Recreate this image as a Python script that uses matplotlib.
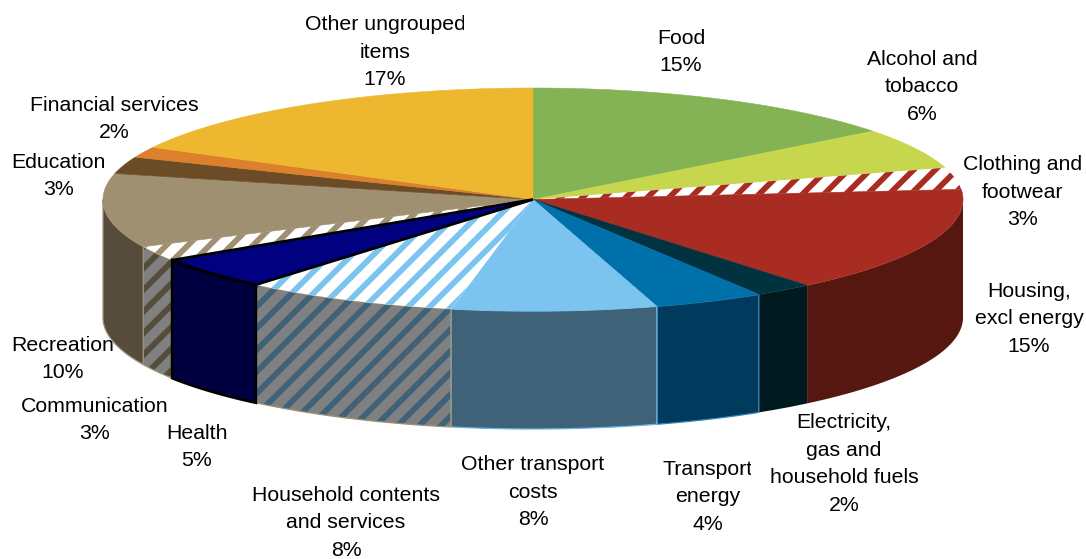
import numpy as np
import matplotlib
matplotlib.use('Agg')
import matplotlib.pyplot as plt
from matplotlib.patches import Polygon
from matplotlib.transforms import Bbox, TransformedBbox

# Shares (the printed labels are rounded)
categories = ['Food', 'Alcohol and\ntobacco', 'Clothing and\nfootwear', 'Housing,\nexcl energy',
              'Electricity,\ngas and\nhousehold fuels', 'Transport\nenergy', 'Other transport\ncosts',
              'Household contents\nand services', 'Health', 'Communication', 'Recreation',
              'Education', 'Financial services', 'Other ungrouped\nitems']
shares = [14.5, 5.9, 3.15, 15.45, 2.2, 4.15, 7.7, 8.1, 4.7, 2.2, 10.7, 2.45, 1.55, 17.25]
percent_labels = ['15%', '6%', '3%', '15%', '2%', '4%', '8%', '8%', '5%', '3%', '10%', '3%', '2%', '17%']

top_colors = ['#84B356', '#C6D64D', '#A92C22', '#A92C22', '#00323F', '#0070AA', '#7CC4F0',
              '#7CC4F0', '#000080', '#A09072', '#A09072', '#6B4C26', '#DD802B', '#EDB72F']
side_colors = ['#426B2B', '#63701F', '#551710', '#551710', '#001A1F', '#003A5C', '#406278',
               '#406278', '#000040', '#554C3C', '#554C3C', '#36260F', '#6E4015', '#775B17']
edge_colors = [None, None, None, None, None, '#3C85B5', '#6DB4E0',
               '#A09072', '#000000', '#A09072', '#A09072', None, None, None]
hatched = [False, False, True, False, False, False, False, True, False, True, False, False, False, False]

# Label centres in pixels
label_x = [681, 922, 1023, 1029, 844, 708, 533, 346, 197, 95, 63, 58, 114, 385]
label_y = [52, 87, 192, 319, 464, 497, 492, 523, 447, 420, 359, 176, 119, 52]

DPI = 130
CX, CY = 533, 199.5
RX, RY = 430, 111.5
DEPTH = 118

plt.rcParams['font.family'] = ['Liberation Sans', 'DejaVu Sans']
plt.rcParams['hatch.linewidth'] = 3.2


def rim(a0, a1):
    """Points on the top ellipse between two angles, clockwise from 12 o'clock."""
    t = np.radians(np.arange(a0, a1, 0.25).tolist() + [a1])
    return CX + RX * np.sin(t), CY - RY * np.cos(t)


def draw_side(ax, a0, a1, i):
    # only the front half of the drum is visible
    a0, a1 = max(a0, 90), min(a1, 270)
    if a1 <= a0:
        return
    x, y = rim(a0, a1)
    pts = np.column_stack([np.r_[x, x[::-1]], np.r_[y, y[::-1] + DEPTH]])
    if hatched[i]:
        ax.add_patch(Polygon(pts, closed=True, fc='#808080', ec=side_colors[i], hatch='//', lw=0, zorder=2))
    else:
        ax.add_patch(Polygon(pts, closed=True, fc=side_colors[i], ec='none', lw=0, zorder=2))
    if edge_colors[i]:
        lw = 1.5 if i == 8 else 0.7
        z = 5 if i == 8 else 3
        ax.add_patch(Polygon(pts, closed=True, fill=False, ec=edge_colors[i], lw=lw, zorder=z))


def draw_top(ax, a0, a1, i):
    x, y = rim(a0, a1)
    pts = np.column_stack([np.r_[CX, x], np.r_[CY, y]])
    if hatched[i]:
        ax.add_patch(Polygon(pts, closed=True, fc='white', ec=top_colors[i], hatch='//', lw=0, zorder=4))
    else:
        ax.add_patch(Polygon(pts, closed=True, fc=top_colors[i], ec=top_colors[i], lw=0.3, zorder=4))
    if i == 8:
        ax.add_patch(Polygon(pts, closed=True, fill=False, ec='black', lw=1.5, zorder=5))


def main():
    fig = plt.figure(figsize=(1086 / DPI, 559 / DPI), dpi=DPI)
    ax = fig.add_axes([0, 0, 1, 1])
    ax.set_xlim(0, 1086)
    ax.set_ylim(559, 0)
    ax.axis('off')

    edges = np.r_[0, np.cumsum(shares)] * 360 / np.sum(shares)
    for i in range(len(shares)):
        draw_side(ax, edges[i], edges[i + 1], i)
        draw_top(ax, edges[i], edges[i + 1], i)

    # Clipped labels in the original
    clip_right = {'Other ungrouped\nitems': 464, 'Transport\nenergy': 751}
    for name, pct, x, y in zip(categories, percent_labels, label_x, label_y):
        t = ax.text(x, y, name + '\n' + pct, ha='center', va='center', fontsize=11.8,
                    linespacing=1.56, color='black', zorder=6)
        if name in clip_right:
            t.set_clip_on(True)
            t.set_clip_box(TransformedBbox(Bbox([[0, 0], [clip_right[name], 559]]), ax.transData))

    fig.savefig('out.png', dpi=DPI)
    plt.close(fig)


if __name__ == "__main__":
    main()
